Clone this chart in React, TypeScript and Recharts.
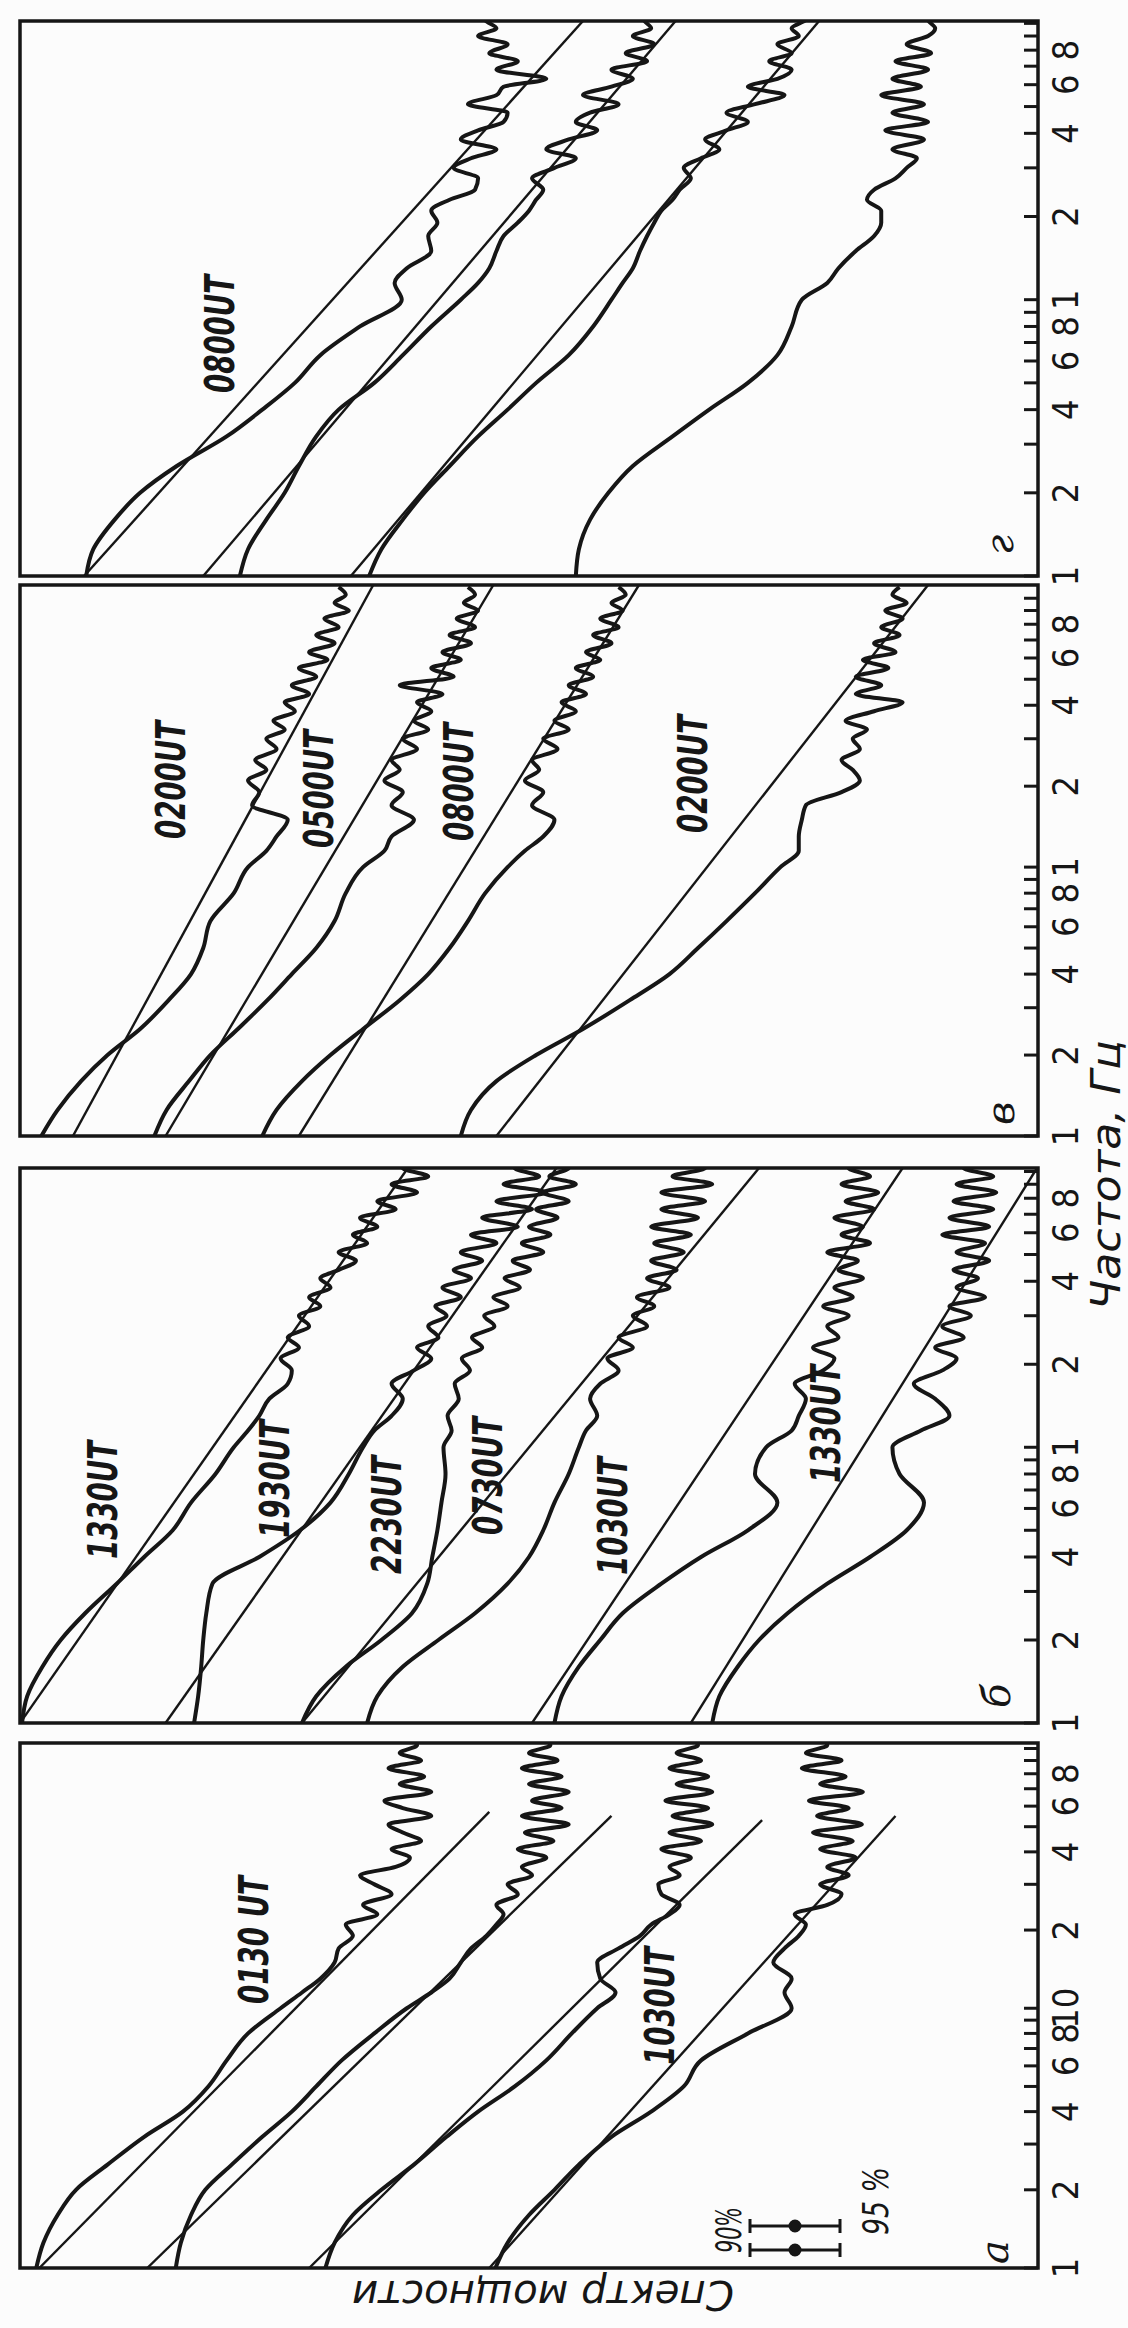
import React from "react";
import { LineChart, Line, XAxis, YAxis, ReferenceArea } from "recharts";

// shared frequency grid (Hz, log axis), read along each panel's frequency axis
const freqs = [1, 1.25, 1.6, 2, 2.5, 3.2, 4, 5, 6.3, 8, 10, 11.5, 13, 15, 17, 19, 21, 23, 25, 27.5, 30, 32.5, 35, 38, 41, 44, 47.5, 51, 55, 59, 63, 68, 73, 78, 84, 90, 96, 103, 110];

// panel а — relative log power (0 = right edge, 100 = left edge)
const spA1 = [98.4, 97.7, 96.3, 94.5, 91.4, 87.8, 84.0, 81.5, 79.7, 77.6, 74.4, 72.3, 70.5, 69.1, 68.7, 67.3, 68.0, 64.9, 66.3, 63.5, 65.2, 66.6, 63.1, 61.7, 63.5, 60.6, 62.4, 63.8, 59.6, 62.4, 64.2, 59.6, 62.7, 60.3, 63.8, 60.6, 62.7, 61.0, 62.0];
const spA2 = [84.7, 84.2, 83.2, 81.8, 79.2, 76.2, 73.3, 70.9, 68.4, 65.2, 62.0, 59.6, 57.8, 56.7, 55.7, 54.2, 53.2, 52.5, 53.2, 51.1, 52.1, 49.7, 50.7, 48.3, 51.1, 47.6, 50.4, 46.1, 50.7, 46.8, 49.7, 46.1, 50.0, 46.8, 50.7, 47.2, 50.0, 47.9, 49.3];
const spA3 = [70.0, 69.1, 67.3, 64.5, 61.3, 58.1, 55.0, 51.4, 48.3, 45.8, 43.3, 41.5, 43.0, 43.3, 41.2, 39.1, 38.0, 36.2, 35.2, 37.0, 37.3, 35.2, 36.2, 34.1, 37.0, 33.1, 36.2, 32.0, 35.9, 32.4, 36.6, 32.0, 35.5, 32.4, 36.2, 33.1, 35.5, 33.4, 34.8];
const spA4 = [53.3, 52.1, 50.0, 47.5, 45.1, 41.9, 38.0, 34.8, 33.1, 28.5, 24.2, 24.9, 24.2, 26.0, 24.9, 23.5, 22.8, 23.9, 20.7, 19.3, 21.4, 18.6, 20.7, 17.9, 21.4, 18.2, 22.1, 17.3, 21.7, 18.6, 22.5, 17.2, 21.4, 18.9, 23.2, 19.3, 22.8, 20.7, 21.7];
const fitStartA = [98.1, 87.5, 71.6, 53.9];
const fitEndA = [53.9, 41.9, 27.1, 14.0];
const fitEndFreqA = [57, 55, 53, 55];

// panel б
const spB1 = [99.8, 99.3, 97.8, 96.0, 93.6, 90.5, 87.8, 85.0, 83.2, 80.8, 79.0, 77.6, 76.5, 75.5, 73.7, 73.3, 74.4, 72.6, 73.7, 71.6, 72.6, 70.5, 71.6, 69.5, 70.5, 68.7, 67.0, 68.7, 65.9, 67.3, 64.9, 66.6, 63.1, 64.9, 61.0, 63.5, 59.9, 62.4, 61.3];
const spB2 = [82.9, 82.5, 82.2, 82.0, 81.7, 81.1, 76.5, 72.5, 69.5, 67.7, 66.3, 65.2, 63.5, 62.4, 63.5, 61.3, 59.6, 61.0, 58.9, 59.9, 58.1, 59.2, 56.7, 58.5, 55.7, 57.4, 54.6, 56.7, 53.2, 55.7, 51.1, 54.6, 49.7, 53.2, 48.3, 52.5, 49.0, 51.4, 50.0];
const spB3 = [72.3, 70.9, 68.0, 64.5, 61.5, 60.0, 59.5, 59.0, 58.6, 58.2, 58.4, 57.6, 58.0, 56.9, 57.3, 55.8, 56.6, 54.6, 55.6, 53.4, 54.4, 52.1, 53.5, 50.9, 52.4, 49.9, 51.6, 48.6, 50.7, 47.9, 50.0, 47.2, 49.3, 46.1, 48.6, 45.4, 48.0, 46.1, 47.5];
const spB4 = [65.9, 64.9, 62.4, 58.9, 55.3, 52.1, 50.0, 48.6, 47.5, 46.1, 45.1, 44.4, 43.3, 44.0, 43.0, 41.2, 42.3, 39.8, 41.2, 38.4, 39.8, 37.7, 39.4, 36.2, 38.4, 35.5, 38.0, 34.8, 37.7, 34.1, 38.0, 33.4, 37.0, 32.7, 37.0, 32.0, 35.9, 32.7, 34.8];
const spB5 = [47.5, 46.8, 45.1, 43.0, 40.8, 37.0, 33.1, 28.5, 25.6, 27.8, 26.7, 24.2, 23.5, 22.8, 23.9, 21.1, 20.0, 22.1, 19.6, 20.7, 18.6, 21.1, 18.2, 20.0, 17.2, 19.6, 17.7, 20.7, 16.5, 19.3, 17.2, 20.0, 16.1, 18.9, 15.7, 19.3, 16.5, 18.6, 17.5];
const spB6 = [32.0, 31.3, 29.5, 27.4, 24.6, 20.7, 16.5, 12.9, 11.2, 13.6, 14.3, 11.5, 8.7, 10.1, 12.2, 9.4, 8.0, 10.1, 7.3, 9.4, 6.6, 8.7, 5.2, 8.0, 5.9, 8.3, 4.8, 8.0, 5.2, 9.4, 4.8, 8.7, 4.4, 8.3, 4.1, 8.0, 4.4, 7.3, 5.9];
const fitStartB = [100, 85.7, 72.3, 49.7, 34.1];
const fitEndB = [61.9, 47.3, 27.4, 13.3, 0.1];

// panel в
const spV1 = [97.9, 96.3, 94.0, 91.4, 88.2, 85.4, 83.2, 82.0, 81.3, 79.0, 77.6, 75.8, 74.8, 73.7, 77.2, 76.5, 77.6, 75.8, 76.9, 74.8, 75.8, 74.0, 75.1, 73.0, 74.0, 71.6, 73.3, 70.9, 72.6, 69.8, 71.6, 69.1, 70.9, 68.7, 70.1, 67.7, 69.1, 68.0, 68.7];
const spV2 = [86.8, 85.6, 83.4, 81.3, 78.6, 75.7, 73.3, 70.9, 69.1, 68.0, 66.3, 64.2, 63.5, 61.3, 63.5, 62.4, 64.2, 62.7, 63.5, 61.0, 62.4, 59.9, 61.3, 59.6, 61.0, 58.5, 62.7, 57.4, 59.6, 56.7, 58.5, 55.7, 57.8, 55.3, 57.1, 55.0, 56.4, 55.3, 56.0];
const spV3 = [76.2, 74.8, 72.3, 69.5, 66.3, 62.7, 59.9, 57.8, 56.0, 54.3, 52.1, 50.4, 48.6, 47.5, 49.7, 48.6, 50.4, 49.0, 49.7, 47.2, 48.6, 46.1, 47.5, 45.4, 46.8, 44.4, 46.1, 43.7, 45.4, 43.0, 44.4, 41.9, 43.7, 41.2, 43.0, 40.8, 41.9, 40.5, 41.2];
const spV4 = [56.7, 55.7, 53.2, 49.3, 44.7, 40.1, 36.2, 33.4, 30.6, 27.8, 25.3, 23.5, 23.5, 23.2, 22.8, 19.3, 17.5, 18.2, 19.3, 17.5, 18.2, 16.8, 18.9, 16.1, 13.3, 17.9, 15.4, 17.9, 14.7, 17.2, 14.0, 16.1, 13.6, 15.4, 13.3, 15.0, 12.9, 14.3, 13.6];
const fitStartV = [94.8, 85.7, 72.6, 53.2];
const fitEndV = [65.3, 53.5, 39.2, 10.8];

// panel г
const spG1 = [93.5, 92.8, 90.7, 88.2, 84.6, 79.7, 76.2, 73.0, 70.5, 66.6, 62.5, 63.2, 62.0, 59.6, 59.9, 59.0, 59.6, 57.8, 55.3, 55.0, 57.4, 55.7, 53.2, 56.7, 55.0, 52.5, 52.1, 56.0, 53.2, 52.5, 48.3, 53.2, 51.1, 53.9, 52.1, 55.0, 53.2, 54.3, 53.5];
const spG2 = [78.4, 77.6, 75.8, 74.0, 72.6, 70.9, 68.7, 65.2, 62.4, 59.6, 56.7, 55.0, 53.9, 53.2, 52.5, 51.1, 50.0, 49.3, 48.6, 49.7, 47.5, 45.4, 48.3, 46.1, 43.3, 45.4, 44.0, 41.2, 44.7, 41.9, 39.8, 41.9, 38.4, 40.5, 37.7, 39.8, 38.0, 38.7, 37.7];
const spG3 = [65.7, 64.5, 62.4, 60.3, 57.8, 55.0, 52.1, 49.3, 46.1, 43.7, 41.9, 40.8, 39.8, 39.1, 38.4, 37.7, 37.0, 35.9, 35.2, 34.1, 34.8, 33.1, 31.3, 32.7, 30.6, 28.5, 30.6, 27.8, 24.9, 28.5, 25.6, 24.2, 26.4, 24.2, 25.6, 23.5, 24.2, 22.8, 22.5];
const spG4 = [45.4, 45.1, 44.0, 42.2, 39.8, 35.9, 32.3, 28.5, 25.6, 24.2, 23.2, 20.7, 19.6, 17.9, 16.1, 15.4, 15.4, 16.8, 16.1, 14.0, 12.9, 11.9, 14.3, 11.2, 15.0, 10.8, 14.3, 11.2, 15.4, 11.5, 14.3, 10.8, 14.0, 10.5, 12.9, 10.8, 10.1, 10.8, 9.7];
const fitStartG = [93.7, 82.0, 67.5];
const fitEndG = [44.7, 35.6, 21.5];

const tickValues = [1, 2, 3, 4, 5, 6, 7, 8, 9, 10, 20, 30, 40, 50, 60, 70, 80, 90, 100];
const tickTextA: Record<number, string> = { 1: "1", 2: "2", 4: "4", 6: "6", 8: "8", 10: "10", 20: "2", 40: "4", 60: "6", 80: "8" };
const tickText: Record<number, string> = { 1: "1", 2: "2", 4: "4", 6: "6", 8: "8", 10: "1", 20: "2", 40: "4", 60: "6", 80: "8" };

const INK = "#161616";
const PAD = 30;
const TOP = 20;
const BOTTOM = 1038;
const W = 2328;
const H = 1128;

const toRows = (vals: number[]) => freqs.map((f, i) => ({ f, p: vals[i] }));

function AxisTick(props: any) {
  const { x, y, payload, labels } = props;
  const label = labels[payload.value];
  return (
    <g>
      <line x1={x} x2={x} y1={y} y2={y - 14} stroke={INK} strokeWidth={3} />
      {label && (
        <text x={x} y={y + 40} textAnchor="middle" fontSize={36}
          fontFamily="'DejaVu Sans Condensed', 'DejaVu Sans', sans-serif" fill={INK}>
          {label}
        </text>
      )}
    </g>
  );
}

type PanelProps = {
  x0: number;
  x1: number;
  fmax: number;
  curves: number[][];
  fitStart: number[];
  fitEnd: number[];
  fitEndFreq?: number[];
  labels: Record<number, string>;
};

function Panel({ x0, x1, fmax, curves, fitStart, fitEnd, fitEndFreq, labels }: PanelProps) {
  const ticks = tickValues.filter((t) => t < fmax);
  return (
    <div style={{ position: "absolute", left: x0 - PAD, top: 0 }}>
      <LineChart width={x1 - x0 + 2 * PAD} height={H} margin={{ top: TOP, right: PAD, bottom: 0, left: PAD }}>
        <XAxis type="number" dataKey="f" scale="log" domain={[1, fmax]} allowDataOverflow
          ticks={ticks} interval={0} tickLine={false} axisLine={false} tickSize={0} tickMargin={0}
          height={H - BOTTOM} tick={(p: any) => <AxisTick {...p} labels={labels} />} />
        <YAxis type="number" domain={[0, 100]} hide allowDataOverflow />
        <ReferenceArea x1={1} x2={fmax} y1={0} y2={100} fill="none" stroke={INK} strokeWidth={3.5} />
        {fitStart.map((p0, i) => (
          <Line key={"fit" + i} data={[{ f: 1, p: p0 }, { f: fitEndFreq ? fitEndFreq[i] : fmax, p: fitEnd[i] }]}
            dataKey="p" type="linear" dot={false} stroke={INK} strokeWidth={2.4} isAnimationActive={false} />
        ))}
        {curves.map((c, i) => (
          <Line key={"sp" + i} data={toRows(c)} dataKey="p" type="monotone" dot={false}
            stroke={INK} strokeWidth={4} strokeLinejoin="round" isAnimationActive={false} />
        ))}
      </LineChart>
    </div>
  );
}

const utLabels = [
  { t: "0130 UT", x: 324, y: 268, len: 128 },
  { t: "1030UT", x: 263, y: 674, len: 118 },
  { t: "1330UT", x: 769, y: 117, len: 118 },
  { t: "1930UT", x: 790, y: 289, len: 118 },
  { t: "2230UT", x: 754, y: 401, len: 118 },
  { t: "0730UT", x: 793, y: 502, len: 118 },
  { t: "1030UT", x: 753, y: 627, len: 118 },
  { t: "1330UT", x: 845, y: 840, len: 118 },
  { t: "0200UT", x: 1489, y: 185, len: 118 },
  { t: "0500UT", x: 1480, y: 333, len: 118 },
  { t: "0800UT", x: 1487, y: 473, len: 118 },
  { t: "0200UT", x: 1495, y: 707, len: 118 },
  { t: "0800UT", x: 1935, y: 234, len: 118 },
];

const panelLetters = [
  { t: "а", x: 64, y: 1008 },
  { t: "б", x: 620, y: 1010 },
  { t: "в", x: 1203, y: 1014 },
  { t: "г", x: 1773, y: 1013 },
];

const bars = [78, 102];

export default function App() {
  return (
    <div style={{ position: "absolute", left: 0, top: 0, width: H, height: W, overflow: "hidden", background: "#fcfcfc" }}>
      <div style={{ position: "absolute", left: 0, top: 0, width: W, height: H, transformOrigin: "0 0", transform: `translate(0px, ${W}px) rotate(-90deg)` }}>
        <Panel x0={60} x1={585} fmax={105} curves={[spA1, spA2, spA3, spA4]} fitStart={fitStartA} fitEnd={fitEndA} fitEndFreq={fitEndFreqA} labels={tickTextA} />
        <Panel x0={605} x1={1160} fmax={103} curves={[spB1, spB2, spB3, spB4, spB5, spB6]} fitStart={fitStartB} fitEnd={fitEndB} labels={tickText} />
        <Panel x0={1192} x1={1743} fmax={112} curves={[spV1, spV2, spV3, spV4]} fitStart={fitStartV} fitEnd={fitEndV} labels={tickText} />
        <Panel x0={1752} x1={2307} fmax={102} curves={[spG1, spG2, spG3, spG4]} fitStart={fitStartG} fitEnd={fitEndG} labels={tickText} />
        <svg width={W} height={H} style={{ position: "absolute", left: 0, top: 0, pointerEvents: "none" }}>
          {utLabels.map((l, i) => (
            <text key={i} x={l.x} y={l.y} textLength={l.len} lengthAdjust="spacingAndGlyphs" fontSize={40}
              fontWeight="bold" fontStyle="italic" fontFamily="'DejaVu Sans', sans-serif" fill={INK}>
              {l.t}
            </text>
          ))}
          {panelLetters.map((l, i) => (
            <text key={i} x={l.x} y={l.y} fontSize={40} fontStyle="italic" fontFamily="'DejaVu Serif', serif" fill={INK}>
              {l.t}
            </text>
          ))}
          <text x={1018} y={1120} textLength={270} lengthAdjust="spacingAndGlyphs" fontSize={40} fontStyle="italic"
            fontFamily="'DejaVu Sans', sans-serif" fill={INK}>
            Частота, Гц
          </text>
          <text x={47} y={543} textAnchor="middle" transform="rotate(-90 47 543)" textLength={382}
            lengthAdjust="spacingAndGlyphs" fontSize={40} fontStyle="italic" fontFamily="'DejaVu Sans', sans-serif" fill={INK}>
            Спектр мощности
          </text>
          <text x={75} y={741} textLength={46} lengthAdjust="spacingAndGlyphs" fontSize={36} fontStyle="italic"
            fontFamily="'DejaVu Sans', sans-serif" fill={INK}>
            90%
          </text>
          <text x={93} y={888} textLength={68} lengthAdjust="spacingAndGlyphs" fontSize={36} fontStyle="italic"
            fontFamily="'DejaVu Sans', sans-serif" fill={INK}>
            95 %
          </text>
          {bars.map((bx) => (
            <g key={bx} stroke={INK} strokeWidth={3}>
              <line x1={bx} x2={bx} y1={750} y2={840} />
              <line x1={bx - 7} x2={bx + 7} y1={750} y2={750} />
              <line x1={bx - 7} x2={bx + 7} y1={840} y2={840} />
              <circle cx={bx} cy={795} r={5} fill={INK} />
            </g>
          ))}
        </svg>
      </div>
    </div>
  );
}
